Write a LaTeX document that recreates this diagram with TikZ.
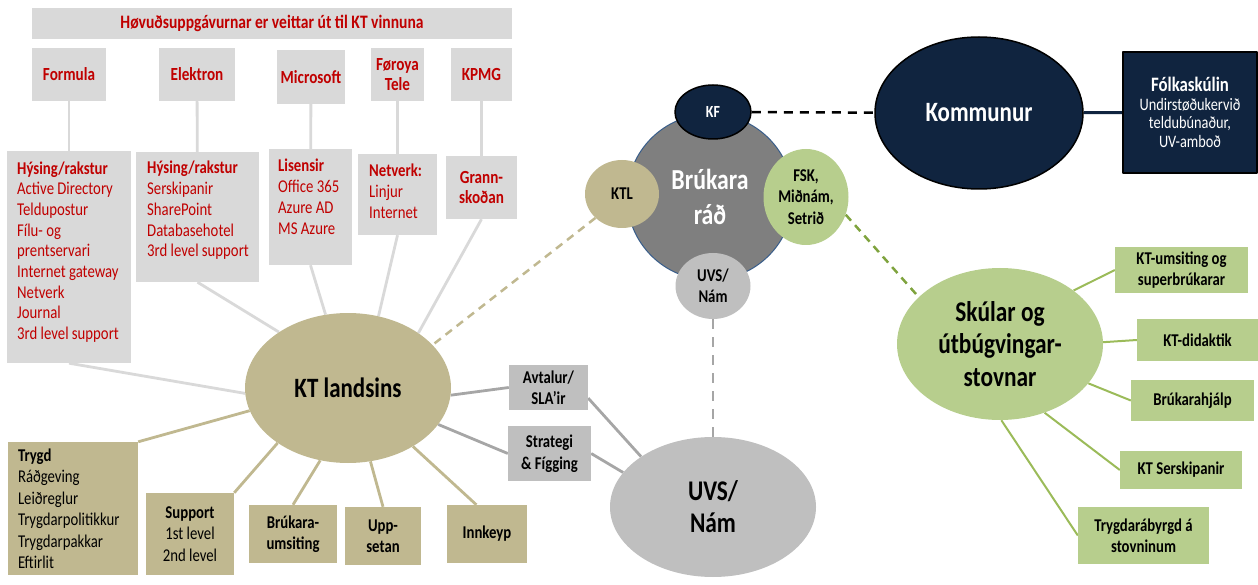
\documentclass[tikz,border=0pt]{standalone}
\usepackage{fontspec}
\setmainfont{Carlito}[FakeStretch=0.82]
\usepackage{tikz}
\usetikzlibrary{shapes.geometric,backgrounds}
\definecolor{boxgray}{HTML}{D9D9D9}
\definecolor{kvred}{HTML}{C00000}
\definecolor{landtan}{HTML}{C0B890}
\definecolor{midgray}{HTML}{BFBFBF}
\definecolor{linegray}{HTML}{A6A6A6}
\definecolor{darkgray}{HTML}{7F7F7F}
\definecolor{ringblue}{HTML}{385D8A}
\definecolor{navy}{HTML}{10243F}
\definecolor{skgreen}{HTML}{B7CE8D}
\definecolor{linegreen}{HTML}{9BBB59}
\definecolor{dashgreen}{HTML}{7FA33E}
\newcommand{\fsz}[2]{\fontsize{#1}{#2}\selectfont}

\begin{document}
\begin{tikzpicture}[x=1pt,y=-1pt,line join=round,
        greybox/.style={fill=boxgray,inner sep=0pt,align=center,text=kvred,font=\bfseries\fsz{18.5}{20}},
        redlist/.style={anchor=base west,inner sep=0pt,align=left,text=kvred,font=\fsz{18}{20.7}},
        tanbox/.style={fill=landtan,inner sep=0pt,align=center,font=\bfseries\fsz{18}{21.5}},
        slabox/.style={fill=midgray,inner sep=0pt,align=center,font=\bfseries\fsz{18}{21.5}},
        greenbox/.style={fill=skgreen,inner sep=0pt,align=center,font=\bfseries\fsz{18}{21.5}},
        bubble/.style={ellipse,inner sep=0pt,align=center},
        spoke/.style={draw=boxgray,line width=2.8pt},
        tanspoke/.style={draw=landtan,line width=2.8pt},
        slaspoke/.style={draw=linegray,line width=2.8pt},
        greenspoke/.style={draw=linegreen,line width=2pt}]
        \useasboundingbox (0,0) rectangle (1258,585);

        \node[greybox,minimum width=480pt,minimum height=31pt,font=\bfseries\fsz{19}{20}] (banner) at (272,23.5) {Høvuðsuppgávurnar er veittar út til KT vinnuna};

        \node[greybox,minimum width=74pt,minimum height=53pt] (formula) at (69,74.5) {Formula};
        \node[greybox,minimum width=76pt,minimum height=53pt] (elektron) at (197,74.5) {Elektron};
        \node[greybox,minimum width=68pt,minimum height=54pt] (microsoft) at (311,77) {Microsoft};
        \node[greybox,minimum width=53pt,minimum height=53pt] (foroya) at (397.5,74.5) {Føroya\\Tele};
        \node[greybox,minimum width=61pt,minimum height=53pt] (kpmg) at (481.5,74.5) {KPMG};

        \node[greybox,minimum width=124pt,minimum height=212pt] (formulaBox) at (69,257) {};
        \node[greybox,minimum width=123pt,minimum height=130pt] (elektronBox) at (197.5,217) {};
        \node[greybox,minimum width=83pt,minimum height=116pt] (microsoftBox) at (310.5,207) {};
        \node[greybox,minimum width=79pt,minimum height=81pt] (foroyaBox) at (397.5,194.5) {};
        \node[greybox,minimum width=71pt,minimum height=63pt] (kpmgBox) at (481.5,187.5) {Grann-\\skoðan};

        \node[redlist] (formulaTxt) at (17,339.6) {\textbf{Hýsing/rakstur}\\Active Directory\\Teldupostur\\Fílu- og\\prentservari\\Internet gateway\\Netverk\\Journal\\3rd level support};
        \node[redlist] (elektronTxt) at (147,256.8) {\textbf{Hýsing/rakstur}\\Serskipanir\\SharePoint\\Databasehotel\\3rd level support};
        \node[redlist] (microsoftTxt) at (278,234.1) {\textbf{Lisensir}\\Office 365\\Azure AD\\MS Azure};
        \node[redlist] (foroyaTxt) at (369,218.4) {\textbf{Netverk:}\\Linjur\\Internet};

        \node[tanbox,text width=110pt,inner xsep=10pt,minimum height=133pt,align=left,font=\fsz{18}{21.5}] (trygd) at (73,508.5) {\textbf{Trygd}\\Ráðgeving\\Leiðreglur\\Trygdarpolitikkur\\Trygdarpakkar\\Eftirlit};
        \node[tanbox,minimum width=88pt,minimum height=82pt,font=\fsz{18}{21.5}] (support) at (190,534) {\textbf{Support}\\1st level\\2nd level};
        \node[tanbox,minimum width=88pt,minimum height=58pt] (brukum) at (293,534) {Brúkara-\\umsiting};
        \node[tanbox,minimum width=76pt,minimum height=58pt] (uppsetan) at (383,536) {Upp-\\setan};
        \node[tanbox,minimum width=80pt,minimum height=58pt] (innkeyp) at (487,534) {Innkeyp};

        \node[slabox,minimum width=79pt,minimum height=45pt] (avtalur) at (548.5,387.5) {Avtalur/\\SLA’ir};
        \node[slabox,minimum width=83pt,minimum height=55pt] (strategi) at (549.5,453.5) {Strategi\\\& Fígging};

        \node[bubble,fill=landtan,minimum width=206pt,minimum height=150pt,font=\bfseries\fsz{28}{30}] (kt) at (348,388) {KT landsins};
        \node[bubble,fill=darkgray,draw=ringblue,line width=1pt,minimum width=166pt,minimum height=166pt,text=white,font=\bfseries\fsz{29}{35}] (brukararad) at (710,197) {Brúkara\\ráð};
        \node[bubble,fill=navy,draw=black,line width=1.5pt,minimum width=76pt,minimum height=54pt,text=white,font=\bfseries\fsz{17}{20}] (kf) at (713,112) {KF};
        \node[bubble,fill=landtan,minimum width=74pt,minimum height=68pt,font=\bfseries\fsz{18}{21}] (ktl) at (622,194) {KTL};
        \node[bubble,fill=skgreen,minimum width=85pt,minimum height=96pt,font=\bfseries\fsz{18}{21.7}] (fsk) at (806,197) {FSK,\\Miðnám,\\Setrið};
        \node[bubble,fill=midgray,minimum width=75pt,minimum height=66pt,font=\bfseries\fsz{18}{21}] (uvsSmall) at (713,286) {UVS/\\Nám};
        \node[bubble,fill=navy,draw=black,line width=1.5pt,minimum width=208pt,minimum height=152pt,text=white,font=\bfseries\fsz{28}{30}] (kommunur) at (979,113) {Kommunur};
        \node[fill=navy,draw=black,line width=1.5pt,minimum width=134pt,minimum height=121pt,inner sep=0pt,align=center,text=white,font=\fsz{17.5}{18.5}] (folk) at (1190,112.5) {{\bfseries\fsz{20.5}{18.5}Fólkaskúlin}\\Undirstøðukervið\\teldubúnaður,\\UV-amboð};
        \node[bubble,fill=midgray,minimum width=206pt,minimum height=140pt,font=\bfseries\fsz{28.5}{32}] (uvs) at (713,507) {UVS/\\Nám};
        \node[bubble,fill=skgreen,minimum width=206pt,minimum height=152pt,font=\bfseries\fsz{28.5}{32.5}] (skular) at (1000,344) {Skúlar og\\útbúgvingar-\\stovnar};

        \node[greenbox,minimum width=133pt,minimum height=46pt] (umsiting) at (1181.5,270) {KT-umsiting og\\superbrúkarar};
        \node[greenbox,minimum width=121pt,minimum height=42pt] (didaktik) at (1197.5,340) {KT-didaktik};
        \node[greenbox,minimum width=123pt,minimum height=41pt] (hjalp) at (1192.5,400.5) {Brúkarahjálp};
        \node[greenbox,minimum width=122pt,minimum height=38pt] (serskip) at (1181,470) {KT Serskipanir};
        \node[greenbox,minimum width=131pt,minimum height=57pt] (trygdab) at (1143.5,535.5) {Trygdarábyrgd á\\stovninum};

        \begin{scope}[on background layer]
        \draw[spoke] (formula) -- (formulaBox);
        \draw[spoke] (elektron) -- (elektronBox);
        \draw[spoke] (microsoft) -- (microsoftBox);
        \draw[spoke] (foroya) -- (foroyaBox);
        \draw[spoke] (kpmg) -- (kpmgBox);
        \draw[spoke] (formulaBox.south) -- (kt.183);
        \draw[spoke] (elektronBox.south) -- (kt.141);
        \draw[spoke] (microsoftBox.south) -- (kt.107);
        \draw[spoke] (foroyaBox.south) -- (kt.67);
        \draw[spoke] (kpmgBox.south) -- (kt.38);
        \draw[tanspoke] (kt.193) -- (trygd.north east);
        \draw[tanspoke] (kt.218) -- (support.north east);
        \draw[tanspoke] (kt.249) -- (brukum.north);
        \draw[tanspoke] (kt.287) -- (uppsetan.north);
        \draw[tanspoke] (kt.318) -- (innkeyp.110);
        \draw[slaspoke] (kt.356) -- (avtalur.west);
        \draw[slaspoke] (kt.338) -- (strategi.west);
        \draw[slaspoke] (avtalur.-15) -- (uvs.145);
        \draw[slaspoke] (strategi.east) -- (uvs.159);
        \draw[draw=linegray,line width=2.5pt,dash pattern=on 10pt off 8pt] (uvsSmall) -- (uvs);
        \draw[draw=landtan,line width=2.5pt,dash pattern=on 8pt off 6pt] (ktl.222) -- (kt.27);
        \draw[draw=dashgreen,line width=2.5pt,dash pattern=on 8pt off 6pt] (fsk.336) -- (skular.150);
        \draw[draw=black,line width=2.5pt,dash pattern=on 9pt off 7pt] (kf) -- (kommunur);
        \draw[draw=navy,line width=3pt] (kommunur) -- (folk);
        \draw[greenspoke] (skular.36) -- (umsiting.west);
        \draw[greenspoke] (skular.1) -- (didaktik.west);
        \draw[greenspoke] (skular.336) -- (hjalp.west);
        \draw[greenspoke] (skular.303) -- (serskip.west);
        \draw[greenspoke] (skular.271) -- (trygdab.west);
        \end{scope}
    \end{tikzpicture}
\end{document}
